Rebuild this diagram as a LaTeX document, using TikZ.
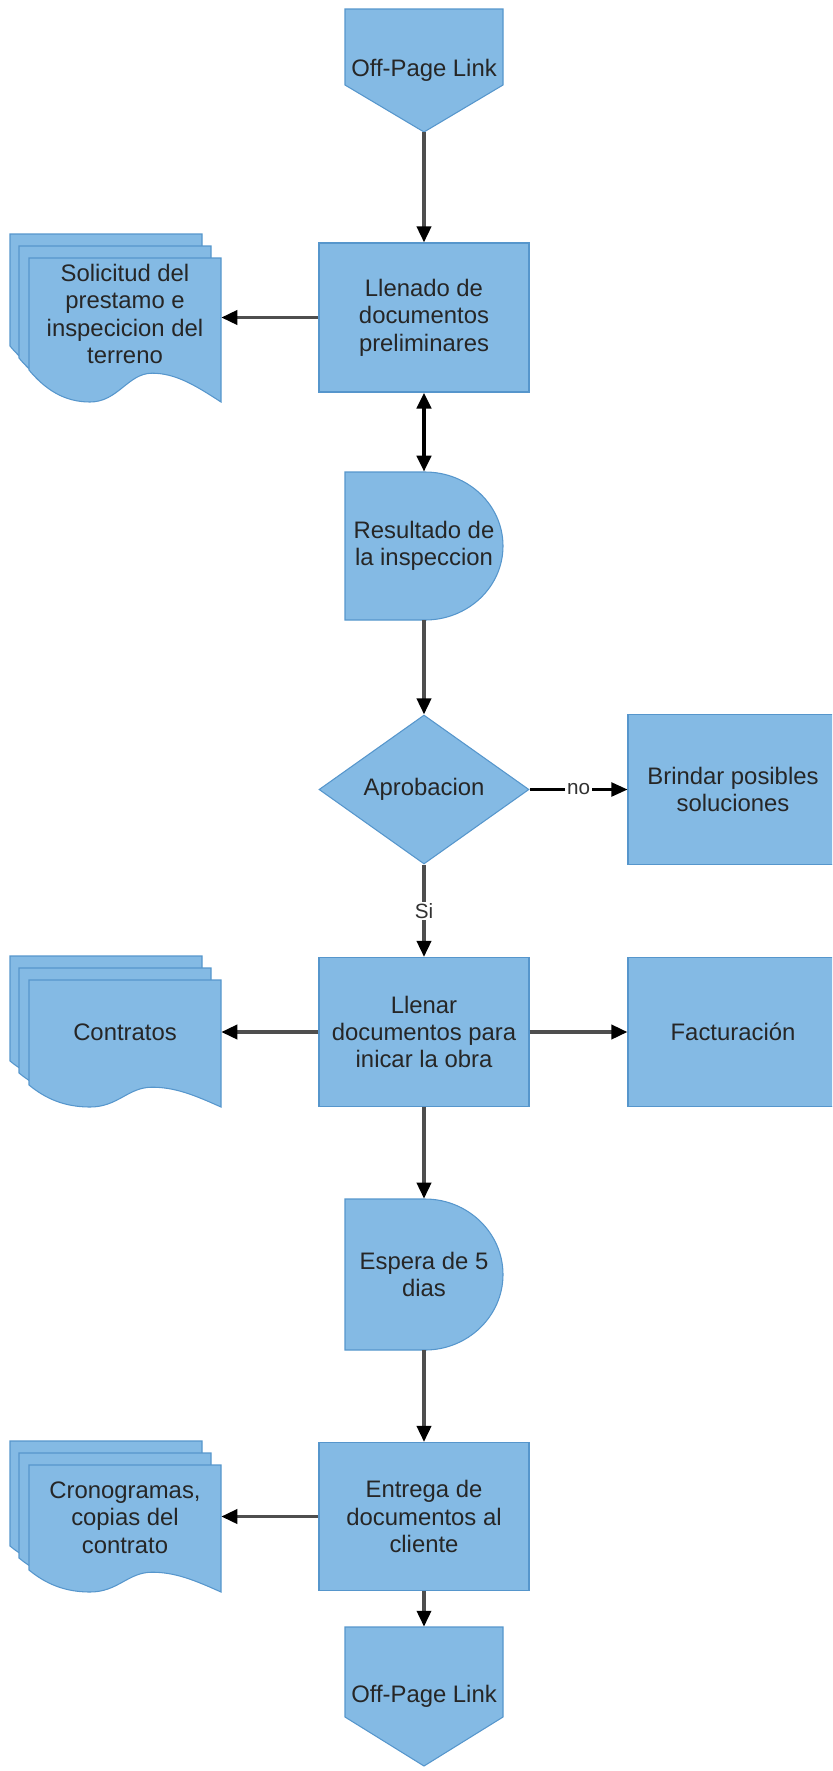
\documentclass[tikz,border=0pt]{standalone}
\usepackage{fontspec}
\setmainfont{Liberation Sans}
\usetikzlibrary{shapes.geometric,arrows.meta,positioning,calc}

\begin{document}
\begin{tikzpicture}[x=0.75pt,y=0.75pt,yscale=-1,xscale=1,
  txt/.style={font=\fontsize{17.9}{20.5}\selectfont, text={rgb,255:red,38;green,38;blue,38}, align=center, inner sep=0pt},
  shp/.style={draw={rgb,255:red,86;green,150;blue,204}, fill={rgb,255:red,132;green,186;blue,228}, line width=0.8pt},
  procbox/.style={shp, txt, minimum width=157.5pt, minimum height=111.75pt},
  decbox/.style={shp, txt, diamond, minimum width=157.5pt, minimum height=111.75pt},
  holder/.style={txt, minimum width=118.5pt},
  flow/.style={draw={rgb,255:red,78;green,78;blue,78}, line width=2.7pt, -{Triangle[length=12pt,width=10.5pt,color=black]}},
  twoflow/.style={draw=black, line width=3.4pt, {Triangle[length=12pt,width=10.5pt]}-{Triangle[length=12pt,width=10.5pt]}},
  thinflow/.style={draw=black, line width=1.6pt, -{Triangle[length=12pt,width=10.5pt]}},
  lbl/.style={fill=white, inner sep=1.2pt, font=\fontsize{15.5}{18}\selectfont, text={rgb,255:red,50;green,50;blue,50}}]
\clip (0,0) rectangle (832,1771);

%Shape: Off-Page Link top
\draw [shp] (345,9) -- (503,9) -- (503,85) -- (424,132) -- (345,85) -- cycle ;
%Shape: Delay
\draw [shp] (345,472) -- (425,472) .. controls (468,472) and (503,505) .. (503,546) .. controls (503,587) and (468,620) .. (425,620) -- (345,620) -- cycle ;
%Shape: Delay
\draw [shp] (345,1199) -- (425,1199) .. controls (468,1199) and (503,1233) .. (503,1274.5) .. controls (503,1316) and (468,1350) .. (425,1350) -- (345,1350) -- cycle ;
%Shape: Off-Page Link bottom
\draw [shp] (345,1627) -- (503,1627) -- (503,1717) -- (424,1766) -- (345,1717) -- cycle ;

%Shape: Multiple Documents
\foreach \T/\B/\w in {258/370/32, 980/1085/22, 1465/1570/22}{
  \foreach \dx/\dy in {-19/-24, -10/-12, 0/0}{
    \begin{scope}[shift={(\dx,\dy)}]
    \draw [shp] (29,\T) -- (221,\T) -- (221,\B+\w) .. controls (194,\B+0.45*\w) and (175,\B+0.1*\w) .. (152,\B+0.1*\w) .. controls (128,\B+0.1*\w) and (118,\B+\w) .. (90,\B+\w) .. controls (64,\B+\w) and (45,\B+0.6*\w) .. (29,\B) -- cycle ;
    \end{scope}
  }
}

% Text Nodes
\node [holder, minimum height=92.25pt] (opone) at (424,70.5) {Off-Page Link};
\node [procbox] (llenado) at (424,317.5) {Llenado de\\documentos\\preliminares};
\node [holder, minimum width=144pt, minimum height=84pt] (docone) at (125,314) {Solicitud del\\prestamo e\\inspecicion del\\terreno};
\node [holder, minimum height=111pt] (resultado) at (424,546) {Resultado de\\la inspeccion};
\node [decbox] (aprob) at (424,789.5) {Aprobacion};
\node [procbox, minimum height=112.5pt] (brindar) at (733,789.5) {Brindar posibles\\soluciones};
\node [procbox] (llenar) at (424,1032) {Llenar\\documentos para\\inicar la obra};
\node [holder, minimum width=144pt, minimum height=78.75pt] (doctwo) at (125,1032.5) {Contratos};
\node [procbox] (factura) at (733,1032) {Facturación};
\node [holder, minimum height=113.25pt] (espera) at (424,1274.5) {Espera de 5\\dias};
\node [procbox, minimum height=111pt] (entrega) at (424,1516.5) {Entrega de\\documentos al\\cliente};
\node [holder, minimum width=144pt, minimum height=78.75pt] (docthree) at (125,1517.5) {Cronogramas,\\copias del\\contrato};
\node [holder, minimum height=104.25pt] (optwo) at (424,1696.5) {Off-Page Link};

%Connectors
\draw [flow] (opone) -- (llenado) ;
\draw [flow] (llenado.west) -- (llenado.west -| docone.east) ;
\draw [twoflow] (llenado) -- (resultado) ;
\draw [flow] (resultado) -- (aprob) ;
\draw [thinflow] (aprob) -- node [lbl] {no} (brindar) ;
\draw [flow] (aprob) -- node [lbl] {Si} (llenar) ;
\draw [flow] (llenar.west) -- (llenar.west -| doctwo.east) ;
\draw [flow] (llenar) -- (factura) ;
\draw [flow] (llenar) -- (espera) ;
\draw [flow] (espera) -- (entrega) ;
\draw [flow] (entrega.west) -- (entrega.west -| docthree.east) ;
\draw [flow] (entrega) -- (optwo) ;

\end{tikzpicture}
\end{document}
